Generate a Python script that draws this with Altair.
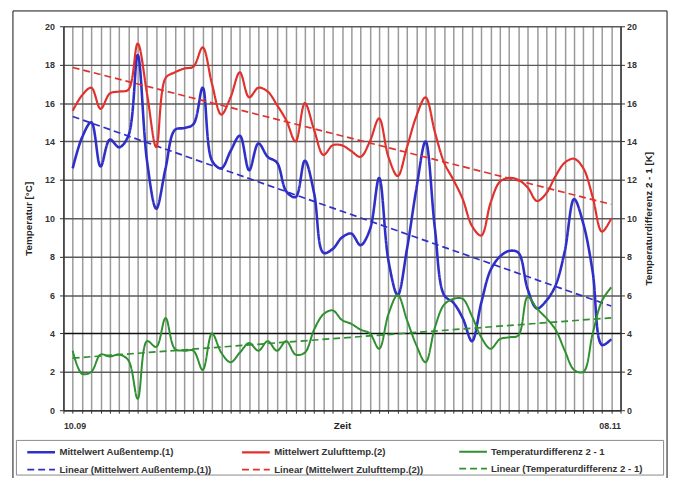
import altair as alt
import pandas as pd

# ---------------- data ----------------
x_tick_labels = ["10.09", "08.11"]
x_title = "Zeit"
y_title_left = "Temperatur [°C]"
y_title_right = "Temperaturdifferenz 2 - 1 [K]"

day = list(range(1, 60))

aussen = [12.6, 14.2, 15.0, 12.7, 14.1, 13.7, 14.3, 18.5, 13.0, 10.5,
          12.6, 14.6, 14.7, 14.9, 16.8, 13.0, 12.6, 13.5, 14.3, 12.5,
          13.9, 13.2, 12.9, 11.4, 11.1, 13.0, 11.3, 8.2, 8.4, 9.0,
          9.2, 8.6, 9.4, 12.1, 7.8, 6.0, 8.4, 11.5, 14.0, 9.5,
          6.0, 5.6, 4.8, 3.6, 5.6, 7.3, 8.0, 8.3, 8.2, 6.3,
          5.3, 5.7, 6.5, 8.3, 11.0, 9.7, 7.2, 3.4, 3.7]

zuluft = [15.6, 16.4, 16.8, 15.7, 16.5, 16.6, 16.7, 19.1, 16.5, 13.7,
          17.3, 17.6, 17.8, 17.9, 18.9, 17.0, 15.4, 16.3, 17.6, 16.3,
          16.8, 16.6, 15.9, 15.1, 14.0, 16.0, 14.6, 13.3, 13.8, 13.8,
          13.5, 13.2, 14.0, 15.2, 13.2, 12.2, 13.7, 15.3, 16.3, 14.5,
          12.9, 12.0, 11.0, 9.6, 9.1, 10.8, 11.9, 12.1, 12.0, 11.6,
          10.9, 11.3, 12.2, 12.9, 13.1, 12.6, 11.1, 9.3, 10.0]

differenz = [3.1, 1.9, 2.0, 2.9, 2.8, 2.9, 2.6, 0.6, 3.6, 3.3,
             4.8, 3.2, 3.1, 3.1, 2.1, 4.0, 3.0, 2.5, 3.0, 3.5,
             3.1, 3.6, 3.1, 3.6, 2.9, 3.0, 4.2, 5.0, 5.2, 4.7,
             4.5, 4.2, 4.0, 3.2, 5.0, 6.0, 4.7, 3.4, 2.5, 4.3,
             5.5, 5.8, 5.8, 4.9, 3.8, 3.2, 3.7, 3.8, 3.9, 5.9,
             5.3, 4.8, 4.2, 3.1, 2.1, 2.0, 4.0, 5.7, 6.4]

names = ["Mittelwert Außentemp.(1)", "Mittelwert Zulufttemp.(2)", "Temperaturdifferenz 2 - 1"]
trend_names = ["Linear (" + n + ")" for n in names]
colors = ["#2f2fc8", "#e2302c", "#2e902e"]
line_widths = [2.6, 2.2, 2.0]

y_ticks = list(range(0, 21, 2))

FONT = "Liberation Sans"

x_enc = alt.X(
    "day:Q",
    scale=alt.Scale(domain=[0, 60], nice=False, zero=False),
    axis=alt.Axis(
        values=list(range(0, 61)),
        labelExpr=f"datum.value == 0 ? '{x_tick_labels[0]}' : datum.value == 60 ? '{x_tick_labels[1]}' : ''",
        labelFlush=True, labelOverlap=False, labelPadding=8,
        title=x_title, titleY=15, titleBaseline="middle",
        grid=True, gridColor="#9a9a9a", gridWidth=1.5,
        tickSize=3,
    ),
)

axis_left = alt.Axis(
    values=y_ticks, title=y_title_left,
    titleAngle=270, titleX=-35, titleY=194, titleBaseline="middle",
    grid=True,
    gridColor={"condition": {"test": "datum.value === 4", "value": "#111111"}, "value": "#5a5a5a"},
    gridWidth=1.5, tickSize=4, labelPadding=5,
)
axis_right = alt.Axis(
    orient="right", values=y_ticks, title=y_title_right,
    titleAngle=270, titleX=28, titleY=194, titleBaseline="middle",
    grid=False, tickSize=4, labelPadding=2,
)

# legend column positions (relative to plot origin)
legend_x = [-43, 174, 394]


def group(values, idx, axis):
    name = names[idx]
    df = pd.DataFrame({"day": day, "value": values, "series": [name] * len(day)})
    dom = [name, trend_names[idx]]
    leg = alt.Legend(
        title=None, orient="none", legendX=legend_x[idx], legendY=424,
        direction="vertical",
        symbolType="M0,0H5.6", symbolSize=100, symbolStrokeWidth=2,
        labelFont=FONT, labelFontSize=9.7, labelFontWeight="bold", labelColor="#333",
        labelLimit=400, labelOffset=26, rowPadding=6, padding=0,
    )
    y = alt.Y("value:Q", scale=alt.Scale(domain=[0, 20], nice=False), axis=axis)
    encoding = dict(
        x=x_enc,
        y=y,
        color=alt.Color("series:N", scale=alt.Scale(domain=dom, range=[colors[idx]] * 2), legend=leg),
        strokeDash=alt.StrokeDash("series:N", scale=alt.Scale(domain=dom, range=[[1, 0], [7, 4]]), legend=leg),
        strokeWidth=alt.StrokeWidth("series:N", scale=alt.Scale(domain=dom, range=[line_widths[idx], 1.7]), legend=None),
    )
    line = alt.Chart(df).mark_line(interpolate="catmull-rom").encode(**encoding)
    trend = (
        alt.Chart(df)
        .transform_regression("day", "value", groupby=["series"])
        .transform_calculate(series="'Linear (' + datum.series + ')'")
        .mark_line()
        .encode(**encoding)
    )
    return alt.layer(line, trend)


blue = group(aussen, 0, axis_left)
red = group(zuluft, 1, None)
green = group(differenz, 2, axis_right)

deco = pd.DataFrame({"f": [0]})
frame = alt.Chart(deco).mark_rect(fill=None, stroke="#111", strokeWidth=1).encode(
    x=alt.value(-51), x2=alt.value(610), y=alt.value(-15.5), y2=alt.value(480)
)
legend_box = alt.Chart(deco).mark_rect(fill=None, stroke="#8a8a8a", strokeWidth=1).encode(
    x=alt.value(-47.5), x2=alt.value(606.5), y=alt.value(418.5), y2=alt.value(453.5)
)

chart = (
    alt.layer(blue, red, green, frame, legend_box)
    .resolve_scale(y="independent", color="independent",
                   strokeDash="independent", strokeWidth="independent")
    .properties(
        width=563, height=388,
        padding={"left": 56, "top": 16, "right": 52, "bottom": 66},
        autosize=alt.AutoSizeParams(type="none"),
        background="white",
    )
    .configure(font=FONT)
    .configure_view(stroke=None)
    .configure_axis(
        labelFont=FONT, labelFontSize=9, labelFontWeight="bold", labelColor="#333",
        titleFont=FONT, titleFontSize=10, titleFontWeight="bold", titleColor="#222",
        domainColor="#333", domainWidth=1.5, tickColor="#333",
    )
)

chart.save("out.html", embed_options={"renderer": "svg", "actions": False})
